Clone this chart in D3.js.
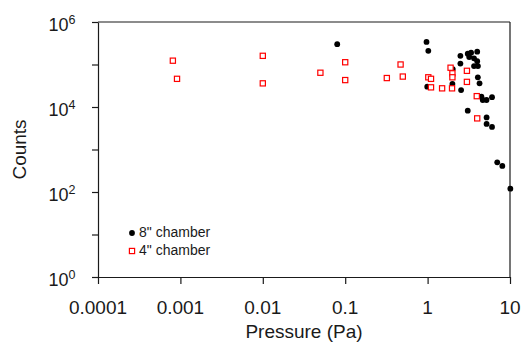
<!DOCTYPE html>
<meta charset="utf-8">
<style>
  body { margin: 0; background: #fff; }
  text { font-family: "Liberation Sans", Arial, sans-serif; fill: #1a1a1a; }
</style>

<!-- Load d3.js -->
<script src="https://d3js.org/d3.v7.min.js"></script>

<div id="my_dataviz"></div>

<script>

// 8" chamber (black dots)
var pressure8 = [0.08, 0.97, 1.02, 0.99, 2.0, 2.02, 2.5, 2.5, 2.55, 3.07, 3.37, 4.0, 3.2, 3.66, 4.0,
                 3.66, 4.08, 4.07, 4.27, 4.5, 4.67, 5.19, 6.05, 3.07, 5.2, 5.2, 6.05, 7.0, 8.07, 10.1]
var counts8 = [3.0e5, 3.4e5, 2.1e5, 3.0e4, 3.5e4, 7.8e4, 1.6e5, 1.05e5, 2.5e4, 1.8e5, 1.9e5, 2.0e5, 1.5e5, 1.4e5, 1.2e5,
               9.2e4, 9.2e4, 5.0e4, 3.6e4, 1.75e4, 1.46e4, 1.46e4, 1.7e4, 8.2e3, 5.7e3, 4.0e3, 3.4e3, 500, 410, 120]

// 4" chamber (red squares)
var pressure4 = [0.00081, 0.00091, 0.01, 0.01, 0.05, 0.1, 0.1, 0.32, 0.47, 0.5, 1.02,
                 1.1, 1.1, 1.5, 1.98, 1.9, 2.0, 2.0, 3.0, 3.0, 3.95, 4.0]
var counts4 = [1.23e5, 4.6e4, 1.6e5, 3.6e4, 6.4e4, 1.13e5, 4.3e4, 4.8e4, 1.0e5, 5.2e4, 5.0e4,
               4.6e4, 2.9e4, 2.75e4, 2.75e4, 8.4e4, 6.2e4, 5.0e4, 7.1e4, 3.9e4, 1.8e4, 5.4e3]

var xTicks = [0.0001, 0.001, 0.01, 0.1, 1, 10]
var xTickLabels = ["0.0001", "0.001", "0.01", "0.1", "1", "10"]
var yTicks = [1, 10, 100, 1000, 1e4, 1e5, 1e6]
var yLabelExps = [0, 2, 4, 6]

var margin = {top: 22, right: 14, bottom: 68, left: 98},
    width = 524 - margin.left - margin.right,
    height = 345 - margin.top - margin.bottom;

var svg = d3.select("#my_dataviz")
  .append("svg")
    .attr("width", width + margin.left + margin.right)
    .attr("height", height + margin.top + margin.bottom)
  .append("g")
    .attr("transform", "translate(" + margin.left + "," + margin.top + ")");

var ink = "#1a1a1a"

// X axis
var x = d3.scaleLog()
  .domain([0.0001, 10])
  .range([0, width]);
var xAxis = svg.append("g")
  .attr("transform", "translate(0," + height + ")")
  .call(d3.axisBottom(x).tickValues(xTicks).tickSize(7).tickSizeOuter(0).tickFormat(""));
xAxis.selectAll("path, line").attr("stroke", ink).attr("stroke-width", 1.2);

svg.append("g").selectAll("text")
  .data(xTicks)
  .enter()
  .append("text")
    .attr("x", function (d) { return x(d); })
    .attr("y", height + 37)
    .attr("text-anchor", "middle")
    .style("font-size", "19px")
    .text(function (d, i) { return xTickLabels[i]; });

svg.append("text")
  .attr("x", width / 2)
  .attr("y", height + 61)
  .attr("text-anchor", "middle")
  .style("font-size", "19px")
  .text("Pressure (Pa)");

// Y axis
var y = d3.scaleLog()
  .domain([1, 1e6])
  .range([height, 0]);
var yAxis = svg.append("g")
  .call(d3.axisLeft(y).tickValues(yTicks).tickSize(6).tickSizeOuter(0).tickFormat(""));
yAxis.selectAll("path, line").attr("stroke", ink).attr("stroke-width", 1.2);

var yLab = svg.append("g").selectAll("text")
  .data(yLabelExps)
  .enter()
  .append("text")
    .attr("x", -36)
    .attr("y", function (d) { return y(Math.pow(10, d)) + 9; })
    .attr("text-anchor", "middle")
    .style("font-size", "18px");
yLab.append("tspan").text("10");
yLab.append("tspan")
  .attr("dy", -7.5)
  .style("font-size", "12.5px")
  .text(function (d) { return d; });

svg.append("text")
  .attr("transform", "rotate(-90)")
  .attr("x", -height / 2)
  .attr("y", -72)
  .attr("text-anchor", "middle")
  .style("font-size", "19px")
  .text("Counts");

// frame top + right
svg.append("line")
  .attr("x1", 0).attr("x2", width)
  .attr("y1", y(1e6)).attr("y2", y(1e6))
  .attr("stroke", ink).attr("stroke-width", 1.2);
svg.append("line")
  .attr("x1", x(10)).attr("x2", x(10))
  .attr("y1", 0).attr("y2", height)
  .attr("stroke", ink).attr("stroke-width", 1.2);

// 8" chamber points
svg.append("g")
  .selectAll("circle")
  .data(pressure8)
  .enter()
  .append("circle")
    .attr("cx", function (d) { return x(d); })
    .attr("cy", function (d, i) { return y(counts8[i]); })
    .attr("r", 2.9)
    .style("fill", "#000");

// 4" chamber points
var sq = 5.2
svg.append("g")
  .selectAll("rect")
  .data(pressure4)
  .enter()
  .append("rect")
    .attr("x", function (d) { return x(d) - sq / 2; })
    .attr("y", function (d, i) { return y(counts4[i]) - sq / 2; })
    .attr("width", sq)
    .attr("height", sq)
    .style("fill", "#fff")
    .style("stroke", "#ff0000")
    .style("stroke-width", 1.2);

// legend
svg.append("circle").attr("cx", 34).attr("cy", 211).attr("r", 2.9).style("fill", "#000")
svg.append("rect").attr("x", 34 - sq / 2).attr("y", 229 - sq / 2).attr("width", sq).attr("height", sq)
  .style("fill", "#fff").style("stroke", "#ff0000").style("stroke-width", 1.2)
svg.append("text").attr("x", 41).attr("y", 211).text("8\" chamber").style("font-size", "14px").attr("dominant-baseline", "middle")
svg.append("text").attr("x", 41).attr("y", 229).text("4\" chamber").style("font-size", "14px").attr("dominant-baseline", "middle")

</script>
